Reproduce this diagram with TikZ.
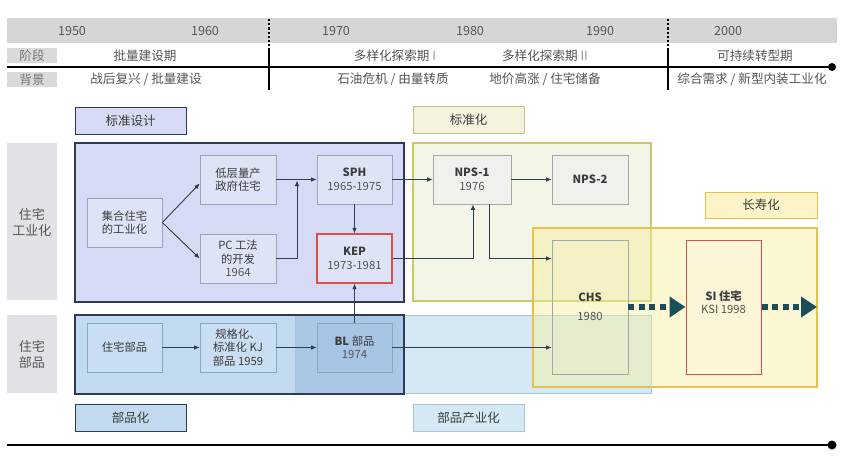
\documentclass[tikz,border=0pt]{standalone}
\usepackage{fontspec}
\setmainfont{Noto Sans CJK SC}
\usetikzlibrary{arrows.meta,calc}
\definecolor{hdrgray}{HTML}{D6D6D6}
\definecolor{lblgray}{HTML}{DADADA}
\definecolor{sidegray}{HTML}{E2E2E6}
\definecolor{txt}{HTML}{3C3C3C}
\definecolor{txtl}{HTML}{555555}
\definecolor{navy}{HTML}{2C3A56}
\definecolor{lavfill}{HTML}{D6DAF4}
\definecolor{lavnode}{HTML}{DFE3F6}
\definecolor{lavline}{HTML}{97A6BE}
\definecolor{bluefill}{HTML}{C2DAF0}
\definecolor{bluenode}{HTML}{C9DEF2}
\definecolor{blueline}{HTML}{8CA6C2}
\definecolor{overlap}{HTML}{AAC8E6}
\definecolor{blnode}{HTML}{A6C4E3}
\definecolor{cyanfill}{HTML}{D4E9F4}
\definecolor{cyanline}{HTML}{A9C5D3}
\definecolor{stdfill}{HTML}{F3F5E6}
\definecolor{stdline}{HTML}{C9C86C}
\definecolor{stdlbl}{HTML}{F4F2DC}
\definecolor{stdlblline}{HTML}{C8C48A}
\definecolor{npsfill}{HTML}{EEF1EC}
\definecolor{npsline}{HTML}{A0A9AA}
\definecolor{yelfill}{HTML}{FAEE9E}
\definecolor{yelline}{HTML}{E6C24A}
\definecolor{yellbl}{HTML}{FCF4C6}
\definecolor{sifill}{HTML}{FDF5D8}
\definecolor{redline}{HTML}{D9514A}
\definecolor{teal}{HTML}{1C4E5A}
\definecolor{arrc}{HTML}{2C3E50}
\tikzset{
  nd/.style={draw, line width=0.6pt, minimum width=75pt, minimum height=49pt, inner sep=2pt,
    align=center, text=txt, font=\fontsize{11.3}{13.5}\selectfont},
  lavnd/.style={nd, fill=lavnode, draw=lavline},
  bluend/.style={nd, fill=bluenode, draw=blueline},
  npsnd/.style={nd, fill=npsfill, draw=npsline},
  lblbox/.style={draw, line width=1pt, minimum width=111pt, minimum height=27pt, inner sep=0pt,
    text=txt, font=\fontsize{12.5}{15}\selectfont},
  hdr/.style={text=txtl, font=\fontsize{12.6}{14}\selectfont, inner sep=0pt},
  side/.style={text=txtl, font=\fontsize{13}{16}\selectfont, align=center, inner sep=0pt},
  arr/.style={draw=arrc, line width=0.9pt, -{Latex[length=5.5pt,width=4.5pt]}},
  dotarr/.style={draw=teal, line width=6pt, dash pattern=on 6pt off 4.5pt, -{Triangle[length=16pt,width=20pt]}},
  region/.style={line width=1.5pt, inner sep=0pt}
}
\begin{document}
\begin{tikzpicture}[x=1pt,y=-1pt]
\useasboundingbox[fill=white] (0,0) rectangle (851,458);

% ---------- header ----------
\fill[hdrgray] (7,18) rectangle (837,43);
\node[hdr] (y1950) at (72,31) {1950};
\node[hdr] (y1960) at (205,31) {1960};
\node[hdr] (y1970) at (336,31) {1970};
\node[hdr] (y1980) at (470,31) {1980};
\node[hdr] (y1990) at (600,31) {1990};
\node[hdr] (y2000) at (728,31) {2000};

\fill[lblgray] (7,48) rectangle (57,63);
\fill[lblgray] (7,72) rectangle (57,87);
\node[hdr, text=txtl!80] (jd) at (32,55.5) {阶段};
\node[hdr, text=txtl!80] (bj) at (32,79.5) {背景};

\draw[line width=2pt] (7,67) -- (832,67);
\fill (832,67) circle (4);
\foreach \xx in {269,668}{
  \draw[line width=2.4pt, dash pattern=on 2.2pt off 2pt] (\xx,19) -- (\xx,46);
  \draw[line width=1.8pt] (\xx,48) -- (\xx,90);
}
\node[hdr] (p1) at (145,55.5) {批量建设期};
\node[hdr] (p2) at (395,55.5) {多样化探索期 {\color{txtl!60}I}};
\node[hdr] (p3) at (545,55.5) {多样化探索期 {\color{txtl!60}II}};
\node[hdr] (p4) at (755,55.5) {可持续转型期};
\node[hdr] (b1) at (146,79.5) {战后复兴 / 批量建设};
\node[hdr] (b2) at (393,79.5) {石油危机 / 由量转质};
\node[hdr] (b3) at (545,79.5) {地价高涨 / 住宅储备};
\node[hdr] (b4) at (752,79.5) {综合需求 / 新型内装工业化};

% ---------- side labels ----------
\fill[sidegray] (7,143) rectangle (57,300);
\fill[sidegray] (7,315) rectangle (57,393);
\node[side] (s1) at (32,222) {住宅\\工业化};
\node[side] (s2) at (32,354) {住宅\\部品};

% ---------- regions ----------
\node[region, draw=stdline, fill=stdfill, minimum width=238pt, minimum height=158pt] (stdreg) at (532,222) {};
\fill[bluefill] (75,315) rectangle (295,394);
\fill[overlap] (295,315) rectangle (404,394);
\fill[cyanfill] (404,315) rectangle (651,393);
\node[draw=cyanline, line width=1pt, minimum width=356pt, minimum height=78pt, inner sep=0pt] (bpreg) at (473,354) {};
\node[region, draw=navy, minimum width=329pt, minimum height=79pt] (zbreg) at (239.5,354.5) {};
\node[region, draw=navy, fill=lavfill, minimum width=329pt, minimum height=159pt] (gyreg) at (239.5,222.5) {};
\node[region, draw=yelline, fill=yelfill, fill opacity=0.45, minimum width=284pt, minimum height=159pt] (lsreg) at (675,307.5) {};

% ---------- label boxes ----------
\node[lblbox, fill=lavfill, draw=navy] (l1) at (130.5,120.5) {标准设计};
\node[lblbox, fill=stdlbl, draw=stdlblline] (l2) at (468.5,120) {标准化};
\node[lblbox, fill=yellbl, draw=yelline, minimum width=112pt, minimum height=26pt] (l3) at (761,205) {长寿化};
\node[lblbox, fill=bluefill, draw=navy] (l4) at (130.5,418) {部品化};
\node[lblbox, fill=cyanfill, draw=cyanline] (l5) at (468.5,418) {部品产业化};

% ---------- nodes ----------
\node[lavnd] (jihe) at (124.5,222.5) {集合住宅\\的工业化};
\node[lavnd, minimum width=76pt] (diceng) at (238,179.5) {低层量产\\政府住宅};
\node[lavnd, minimum width=76pt] (pc) at (238,258.5) {PC 工法\\的开发\\{\color{txtl}1964}};
\node[lavnd] (sph) at (354.5,179.5) {{\bfseries SPH}\\{\color{txtl}1965-1975}};
\node[lavnd, draw=redline, line width=1.2pt] (kep) at (354.5,258.5) {{\bfseries KEP}\\{\color{txtl}1973-1981}};
\node[npsnd, minimum width=78pt] (nps1) at (472,179.5) {{\bfseries NPS-1}\\{\color{txtl}1976}};
\node[npsnd, minimum width=76pt] (nps2) at (590,179.5) {{\bfseries NPS-2}};
\node[nd, draw=npsline, minimum width=76pt, minimum height=134pt] (chs) at (590,307) {{\bfseries CHS}\\[5pt]{\color{txtl}1980}};
\node[nd, fill=sifill, draw=redline, line width=1pt, minimum height=134pt] (si) at (723.5,307) {{\bfseries SI 住宅}\\{\color{txtl}KSI 1998}\\[-3.5pt]};
\node[bluend] (zbbp) at (124.5,347.5) {住宅部品};
\node[bluend, minimum width=76pt] (kj) at (238,347.5) {规格化、\\标准化 KJ\\部品 1959};
\node[bluend, fill=blnode] (bl) at (354.5,347.5) {{\bfseries BL} 部品\\{\color{txtl}1974}};

% ---------- connectors ----------
\draw[arr] (jihe.east) -- ([yshift=-4pt]diceng.west);
\draw[arr] (jihe.east) -- (pc.west);
\draw[arr] (diceng.east) -- (sph.west);
\coordinate (jn) at (297,180.5);
\draw[arr] (pc.east) -| (jn);
\draw[arr] (sph.south) -- (kep.north);
\draw[arr] (bl.north) -- (kep.south);
\draw[arr] (sph.east) -- (nps1.west);
\draw[arr] (nps1.east) -- (nps2.west);
\draw[arr] (kep.east) -| ([xshift=1pt]nps1.south);
\draw[arr] ([xshift=17pt]nps1.south) |- (kep.east -| chs.west);
\draw[arr] (zbbp.east) -- (kj.west);
\draw[arr] (kj.east) -- (bl.west);
\draw[arr] (bl.east) -- (bl.east -| chs.west);
\coordinate (siend) at (817,307);
\draw[dotarr] (chs.east) -- (si.west);
\draw[dotarr] (si.east) -- (siend);

% ---------- bottom axis ----------
\draw[line width=2.5pt] (7,445) -- (832,445);
\fill (832,445) circle (4.5);
\end{tikzpicture}
\end{document}
